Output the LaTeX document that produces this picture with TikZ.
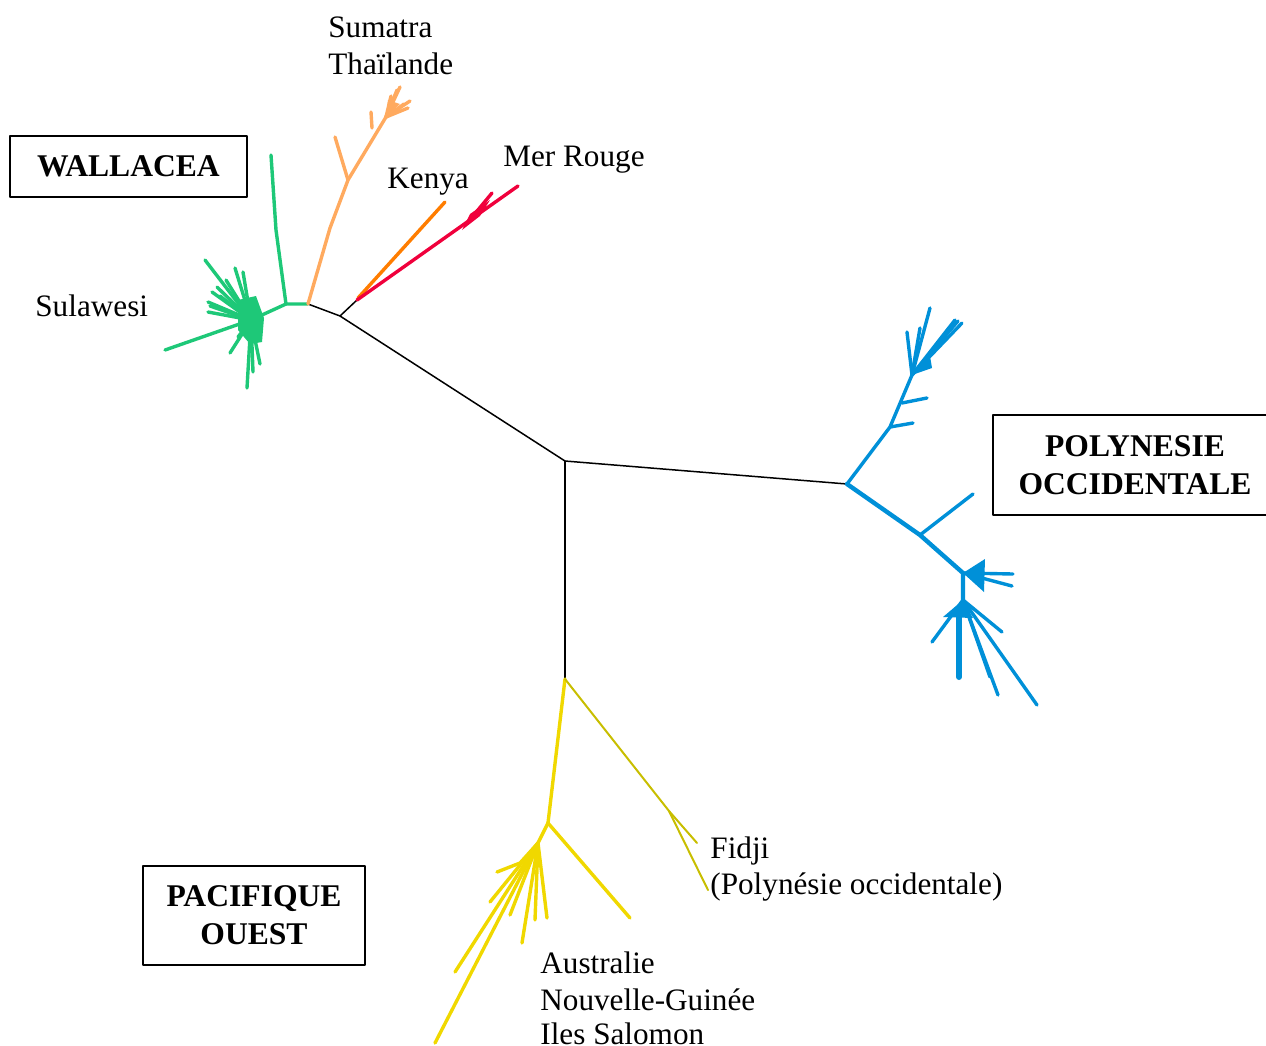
\documentclass[tikz,border=0pt]{standalone}
\usepackage{fontspec}
\setmainfont{Liberation Serif}
\usetikzlibrary{positioning}
\definecolor{wallgreen}{RGB}{30,200,120}
\definecolor{sumorange}{RGB}{255,170,95}
\definecolor{kenorange}{RGB}{255,125,0}
\definecolor{merred}{RGB}{240,0,60}
\definecolor{polyblue}{RGB}{0,144,216}
\definecolor{pacyellow}{RGB}{240,216,0}
\definecolor{fijiolive}{RGB}{200,190,0}

\begin{document}
\begin{tikzpicture}[x=0.5pt, y=-0.5pt, line cap=round, line join=round,
    every node/.style={font=\fontsize{15.6}{19}\selectfont},
    lbl/.style={anchor=base west, inner sep=0pt},
    regionbox/.style={draw, line width=1pt, align=center, font=\fontsize{15.8}{19}\selectfont\bfseries},
    stem/.style={line width=0.75pt},
    twig/.style={line width=1.7pt}]
    \useasboundingbox (0,0) rectangle (1266,1046);

    % backbone
    \coordinate (centre) at (565,461);
    \coordinate (wallroot) at (340,316);
    \coordinate (sulroot) at (308,304);
    \coordinate (redroot) at (357,300);
    \coordinate (polyroot) at (847,484);
    \coordinate (pacroot) at (565,679);
    \draw[stem] (wallroot) -- (centre) -- (polyroot);
    \draw[stem] (centre) -- (pacroot);
    \draw[stem] (sulroot) -- (wallroot) -- (redroot);

    % Sulawesi
    \coordinate (sulfork) at (286,304);
    \coordinate (sulhub) at (251,320);
    \draw[twig, wallgreen] (sulroot) -- (sulfork) -- (sulhub);
    \draw[twig, wallgreen] (sulfork) -- (276,230) -- (271,155);
    \fill[wallgreen] (238,300) -- (256,296) -- (264,318) -- (262,342) -- (250,344) -- (238,330) -- cycle;
    \foreach \x/\y in {165/350, 205/260, 235/268, 243/272, 212/292, 217/287, 208/302, 208/312,
                       230/353, 238/337, 247/388, 260/364, 226/280, 210/306, 220/296, 253/372}
        \draw[twig, wallgreen] (sulhub) -- (\x,\y);

    % Sumatra / Thailande
    \coordinate (sumfork) at (348,180);
    \coordinate (sumtuft) at (386,117);
    \draw[twig, sumorange] (sulroot) -- (330,228) -- (sumfork) -- (sumtuft);
    \draw[twig, sumorange] (sumfork) -- (335,137);
    \draw[twig, sumorange] (372,128) -- (371,112);
    \foreach \x/\y in {400/87, 408/108, 410/101, 391/96, 397/90, 404/104}
        \draw[twig, sumorange] (sumtuft) -- (\x,\y);
    \fill[sumorange] (sumtuft) -- (388,100) -- (400,104) -- cycle;

    % Kenya, Mer Rouge
    \draw[twig, kenorange] (redroot) ++(1,-2) -- (445,202);
    \draw[twig, merred] (redroot) -- (518,186);
    \draw[twig, merred] (468,222) -- (492,193);
    \fill[merred] (462,230) -- (470,214) -- (490,200) -- (480,216) -- cycle;

    % Polynesie occidentale
    \coordinate (polyup) at (890,427);
    \coordinate (polytop) at (912,375);
    \coordinate (polymid) at (920,535);
    \coordinate (polyfanA) at (963,573);
    \coordinate (polyfanB) at (963,600);
    \draw[twig, polyblue] (polyroot) -- (polyup) -- (polytop);
    \draw[twig, polyblue] (polyup) -- (913,423);
    \draw[twig, polyblue] (902,403) -- (927,398);
    \foreach \x/\y in {907/332, 930/308, 955/320, 962/323, 958/321, 920/328}
        \draw[twig, polyblue] (polytop) -- (\x,\y);
    \fill[polyblue] (polytop) -- (930,356) -- (932,368) -- cycle;
    \draw[line width=2.2pt, polyblue] (polyroot) -- (polymid) -- (polyfanA) -- (polyfanB);
    \draw[twig, polyblue] (polymid) -- (973,494);
    \fill[polyblue] (polyfanA) -- (985,559) -- (984,592) -- cycle;
    \draw[twig, polyblue] (polyfanA) -- (1013,574);
    \draw[twig, polyblue] (polyfanA) -- (1012,586);
    \fill[polyblue] (polyfanB) -- (943,617) -- (973,618) -- cycle;
    \foreach \x/\y in {932/642, 998/695, 990/677, 1037/705, 1002/632}
        \draw[twig, polyblue] (polyfanB) -- (\x,\y);
    \draw[line width=3pt, polyblue] (959,610) -- (959,677);

    % Pacifique ouest
    \coordinate (pacfork) at (548,823);
    \coordinate (pacfan) at (538,843);
    \coordinate (fijifork) at (669,811);
    \draw[twig, pacyellow] (pacroot) -- (pacfork) -- (630,918);
    \draw[twig, pacyellow] (pacfork) -- (pacfan);
    \foreach \x/\y in {490/902, 455/972, 435/1043, 510/915, 522/943, 535/920, 547/918}
        \draw[twig, pacyellow] (pacfan) -- (\x,\y);
    \draw[twig, pacyellow] (pacfan) -- (520,863) -- (497,872);
    \draw[line width=1pt, fijiolive] (pacroot) -- (fijifork) -- (697,843);
    \draw[line width=1pt, fijiolive] (fijifork) -- (708,890);

    % labels
    \node[lbl] (sumatra) at (328,37) {Sumatra};
    \node[lbl] (thailande) at (328,74) {Thaïlande};
    \node[lbl] (kenya) at (387,188) {Kenya};
    \node[lbl] (merrouge) at (503,166) {Mer Rouge};
    \node[lbl] (sulawesi) at (35,316) {Sulawesi};
    \node[lbl] (fidji) at (710,858) {Fidji};
    \node[lbl] (fidjipoly) at (710,894) {(Polynésie occidentale)};
    \node[lbl] (australie) at (540,973) {Australie};
    \node[lbl] (guinee) at (540,1010) {Nouvelle-Guinée};
    \node[lbl] (salomon) at (540,1044) {Iles Salomon};

    % regions
    \node[regionbox, minimum width=118.5pt, minimum height=30.5pt] (wallacea) at (128.5,166.5) {WALLACEA};
    \node[regionbox, minimum width=142pt, minimum height=50pt] (polynesie) at (1135,465) {POLYNESIE\\OCCIDENTALE};
    \node[regionbox, minimum width=111pt, minimum height=49.5pt] (pacifique) at (254,915.5) {PACIFIQUE\\OUEST};
\end{tikzpicture}
\end{document}
